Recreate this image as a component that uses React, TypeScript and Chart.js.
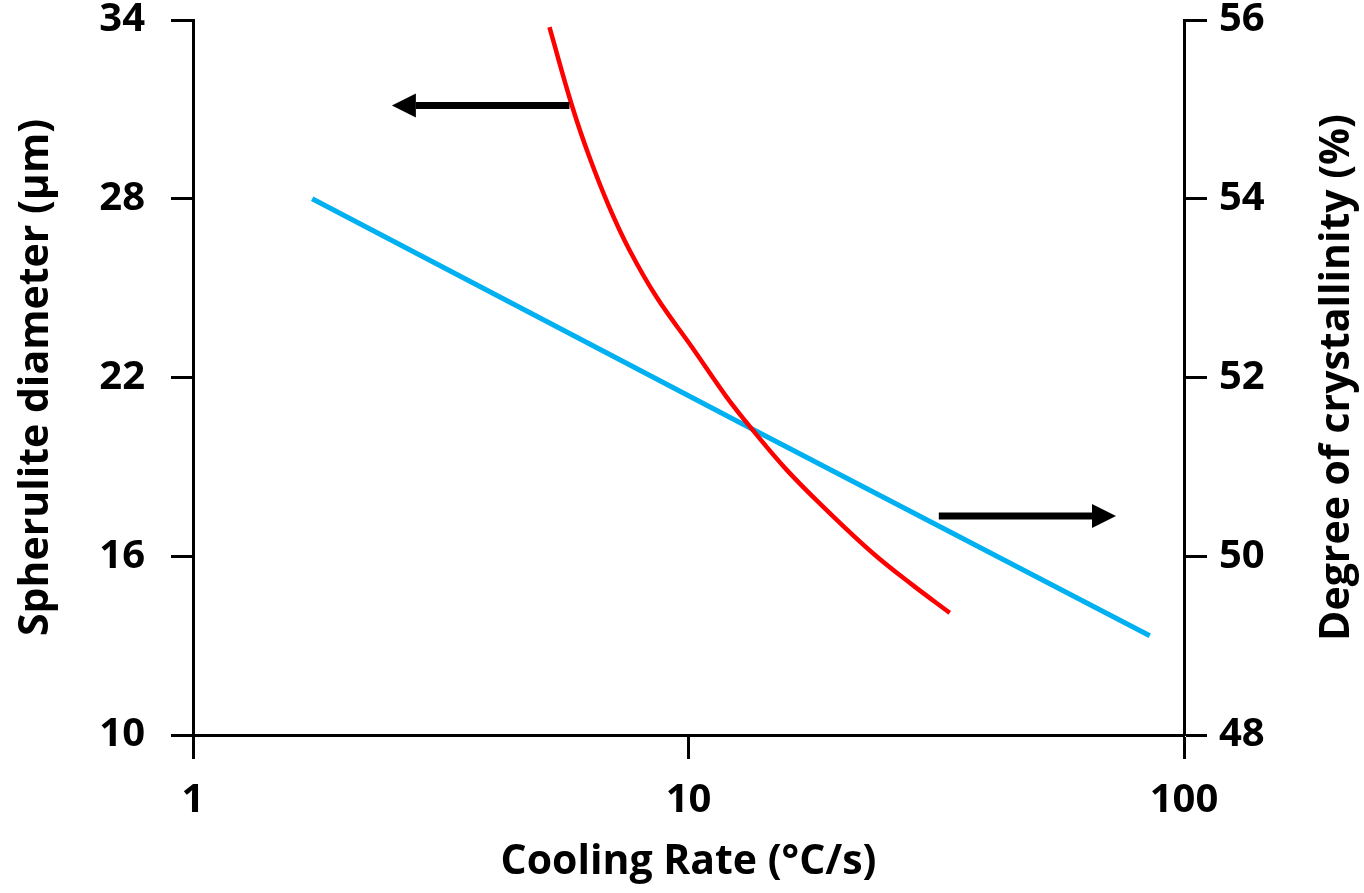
import React, { useEffect, useRef } from "react";
import { Chart, registerables } from "chart.js";

Chart.register(...registerables);

// Red curve: spherulite diameter (left axis)
const redRate = [5.24, 5.83, 6.31, 6.92, 7.6, 8.62, 10.19, 11.93, 13.47, 15.78, 19.0, 23.53, 28.35, 33.67];
const redDiameter = [33.76, 31.08, 29.4, 27.72, 26.28, 24.7, 22.99, 21.35, 20.24, 18.9, 17.55, 16.11, 15.03, 14.1];

// Blue line: degree of crystallinity (right axis)
const blueRate = [1.74, 13.47, 85.3];
const blueCrystallinity = [54.0, 51.42, 49.11];

// Tick values
const xTicks = [1, 10, 100];
const leftRange = [10, 34];
const leftStep = 6;
const rightRange = [48, 56];
const rightStep = 2;

// Arrows (data coordinates): [rate, value]
const arrowLeftFrom = [5.75, 31.13];
const arrowLeftTo = [2.52, 31.13];
const arrowRightFrom = [32.0, 50.45];
const arrowRightTo = [72.9, 50.45];

const xTitle = "Cooling Rate (°C/s)";
const leftTitle = "Spherulite diameter (μm)";
const rightTitle = "Degree of crystallinity (%)";

const FONT = "'Open Sans', 'Liberation Sans', sans-serif";
const TICK_SIZE = 40;
const TITLE_SIZE = 41;

const arrowPlugin = {
  id: "arrows",
  afterDatasetsDraw(chart: any) {
    const ctx = chart.ctx;
    const x = chart.scales.x;
    const yL = chart.scales.y;
    const yR = chart.scales.y2;
    const draw = (from: number[], to: number[], ys: any) => {
      const x1 = x.getPixelForValue(from[0]);
      const y1 = ys.getPixelForValue(from[1]);
      const x2 = x.getPixelForValue(to[0]);
      const y2 = ys.getPixelForValue(to[1]);
      const dir = Math.sign(x2 - x1);
      const headLen = 24;
      const headHalf = 12;
      ctx.save();
      ctx.strokeStyle = "#000";
      ctx.fillStyle = "#000";
      ctx.lineWidth = 7;
      ctx.beginPath();
      ctx.moveTo(x1, y1);
      ctx.lineTo(x2 - dir * headLen, y2);
      ctx.stroke();
      ctx.beginPath();
      ctx.moveTo(x2, y2);
      ctx.lineTo(x2 - dir * headLen, y2 - headHalf);
      ctx.lineTo(x2 - dir * headLen, y2 + headHalf);
      ctx.closePath();
      ctx.fill();
      ctx.restore();
    };
    draw(arrowLeftFrom, arrowLeftTo, yL);
    draw(arrowRightFrom, arrowRightTo, yR);
  },
  afterDraw(chart: any) {
    const ctx = chart.ctx;
    const yR = chart.scales.y2;
    ctx.save();
    ctx.font = `bold ${TITLE_SIZE}px ${FONT}`;
    ctx.fillStyle = "#000";
    ctx.textAlign = "center";
    ctx.textBaseline = "middle";
    ctx.translate(1337, (yR.top + yR.bottom) / 2);
    ctx.rotate(-Math.PI / 2);
    ctx.fillText(rightTitle, 0, 0);
    ctx.restore();
  },
};

export default function App() {
  const ref = useRef<HTMLCanvasElement | null>(null);
  useEffect(() => {
    if (!ref.current) return;
    const tickFont = { family: FONT, size: TICK_SIZE, weight: "bold" as const };
    const titleFont = { family: FONT, size: TITLE_SIZE, weight: "bold" as const };
    const chart = new Chart(ref.current, {
      type: "line",
      data: {
        datasets: [
          {
            label: "Spherulite diameter",
            data: redRate.map((r, i) => ({ x: r, y: redDiameter[i] })),
            borderColor: "#FF0000",
            borderWidth: 4.5,
            pointRadius: 0,
            tension: 0.4,
            yAxisID: "y",
          },
          {
            label: "Degree of crystallinity",
            data: blueRate.map((r, i) => ({ x: r, y: blueCrystallinity[i] })),
            borderColor: "#00B0F0",
            borderWidth: 5,
            pointRadius: 0,
            yAxisID: "y2",
          },
        ],
      },
      options: {
        responsive: false,
        animation: false,
        layout: { padding: { top: 20, left: 0, right: 0, bottom: 0 } },
        plugins: { legend: { display: false }, tooltip: { enabled: false } },
        scales: {
          x: {
            type: "logarithmic",
            min: 1,
            max: 100,
            afterBuildTicks: (s: any) => {
              s.ticks = xTicks.map((v) => ({ value: v }));
            },
            afterFit: (s: any) => {
              s.height = 158;
              s.paddingLeft = 0;
              s.paddingRight = 0;
            },
            ticks: {
              font: tickFont,
              color: "#000",
              padding: 18,
              maxRotation: 0,
              autoSkip: false,
              callback: (v: any) => String(v),
            },
            grid: { drawOnChartArea: false, drawTicks: true, tickLength: 24, tickWidth: 3, tickColor: "#000" },
            border: { display: true, color: "#000", width: 3 },
            title: { display: true, text: xTitle, font: titleFont, color: "#000", padding: { top: 0, bottom: 6 } },
          },
          y: {
            position: "left",
            min: leftRange[0],
            max: leftRange[1],
            afterFit: (s: any) => {
              s.width = 193;
              s.paddingTop = 0;
              s.paddingBottom = 0;
            },
            ticks: { stepSize: leftStep, font: tickFont, color: "#000", padding: 26 },
            grid: { drawOnChartArea: false, drawTicks: true, tickLength: 22, tickWidth: 3, tickColor: "#000" },
            border: { display: true, color: "#000", width: 3 },
            title: { display: true, text: leftTitle, font: titleFont, color: "#000", padding: { top: 12, bottom: 0 } },
          },
          y2: {
            position: "right",
            min: rightRange[0],
            max: rightRange[1],
            afterFit: (s: any) => {
              s.width = 180;
              s.paddingTop = 0;
              s.paddingBottom = 0;
            },
            ticks: { stepSize: rightStep, font: tickFont, color: "#000", padding: 12 },
            grid: { drawOnChartArea: false, drawTicks: true, tickLength: 23, tickWidth: 3, tickColor: "#000" },
            border: { display: true, color: "#000", width: 3 },
          },
        },
      },
      plugins: [arrowPlugin],
    });
    return () => chart.destroy();
  }, []);
  return (
    <div style={{ position: "absolute", left: 0, top: 0, width: 1364, height: 893, background: "#fff" }}>
      <canvas ref={ref} width={1364} height={893} />
    </div>
  );
}
